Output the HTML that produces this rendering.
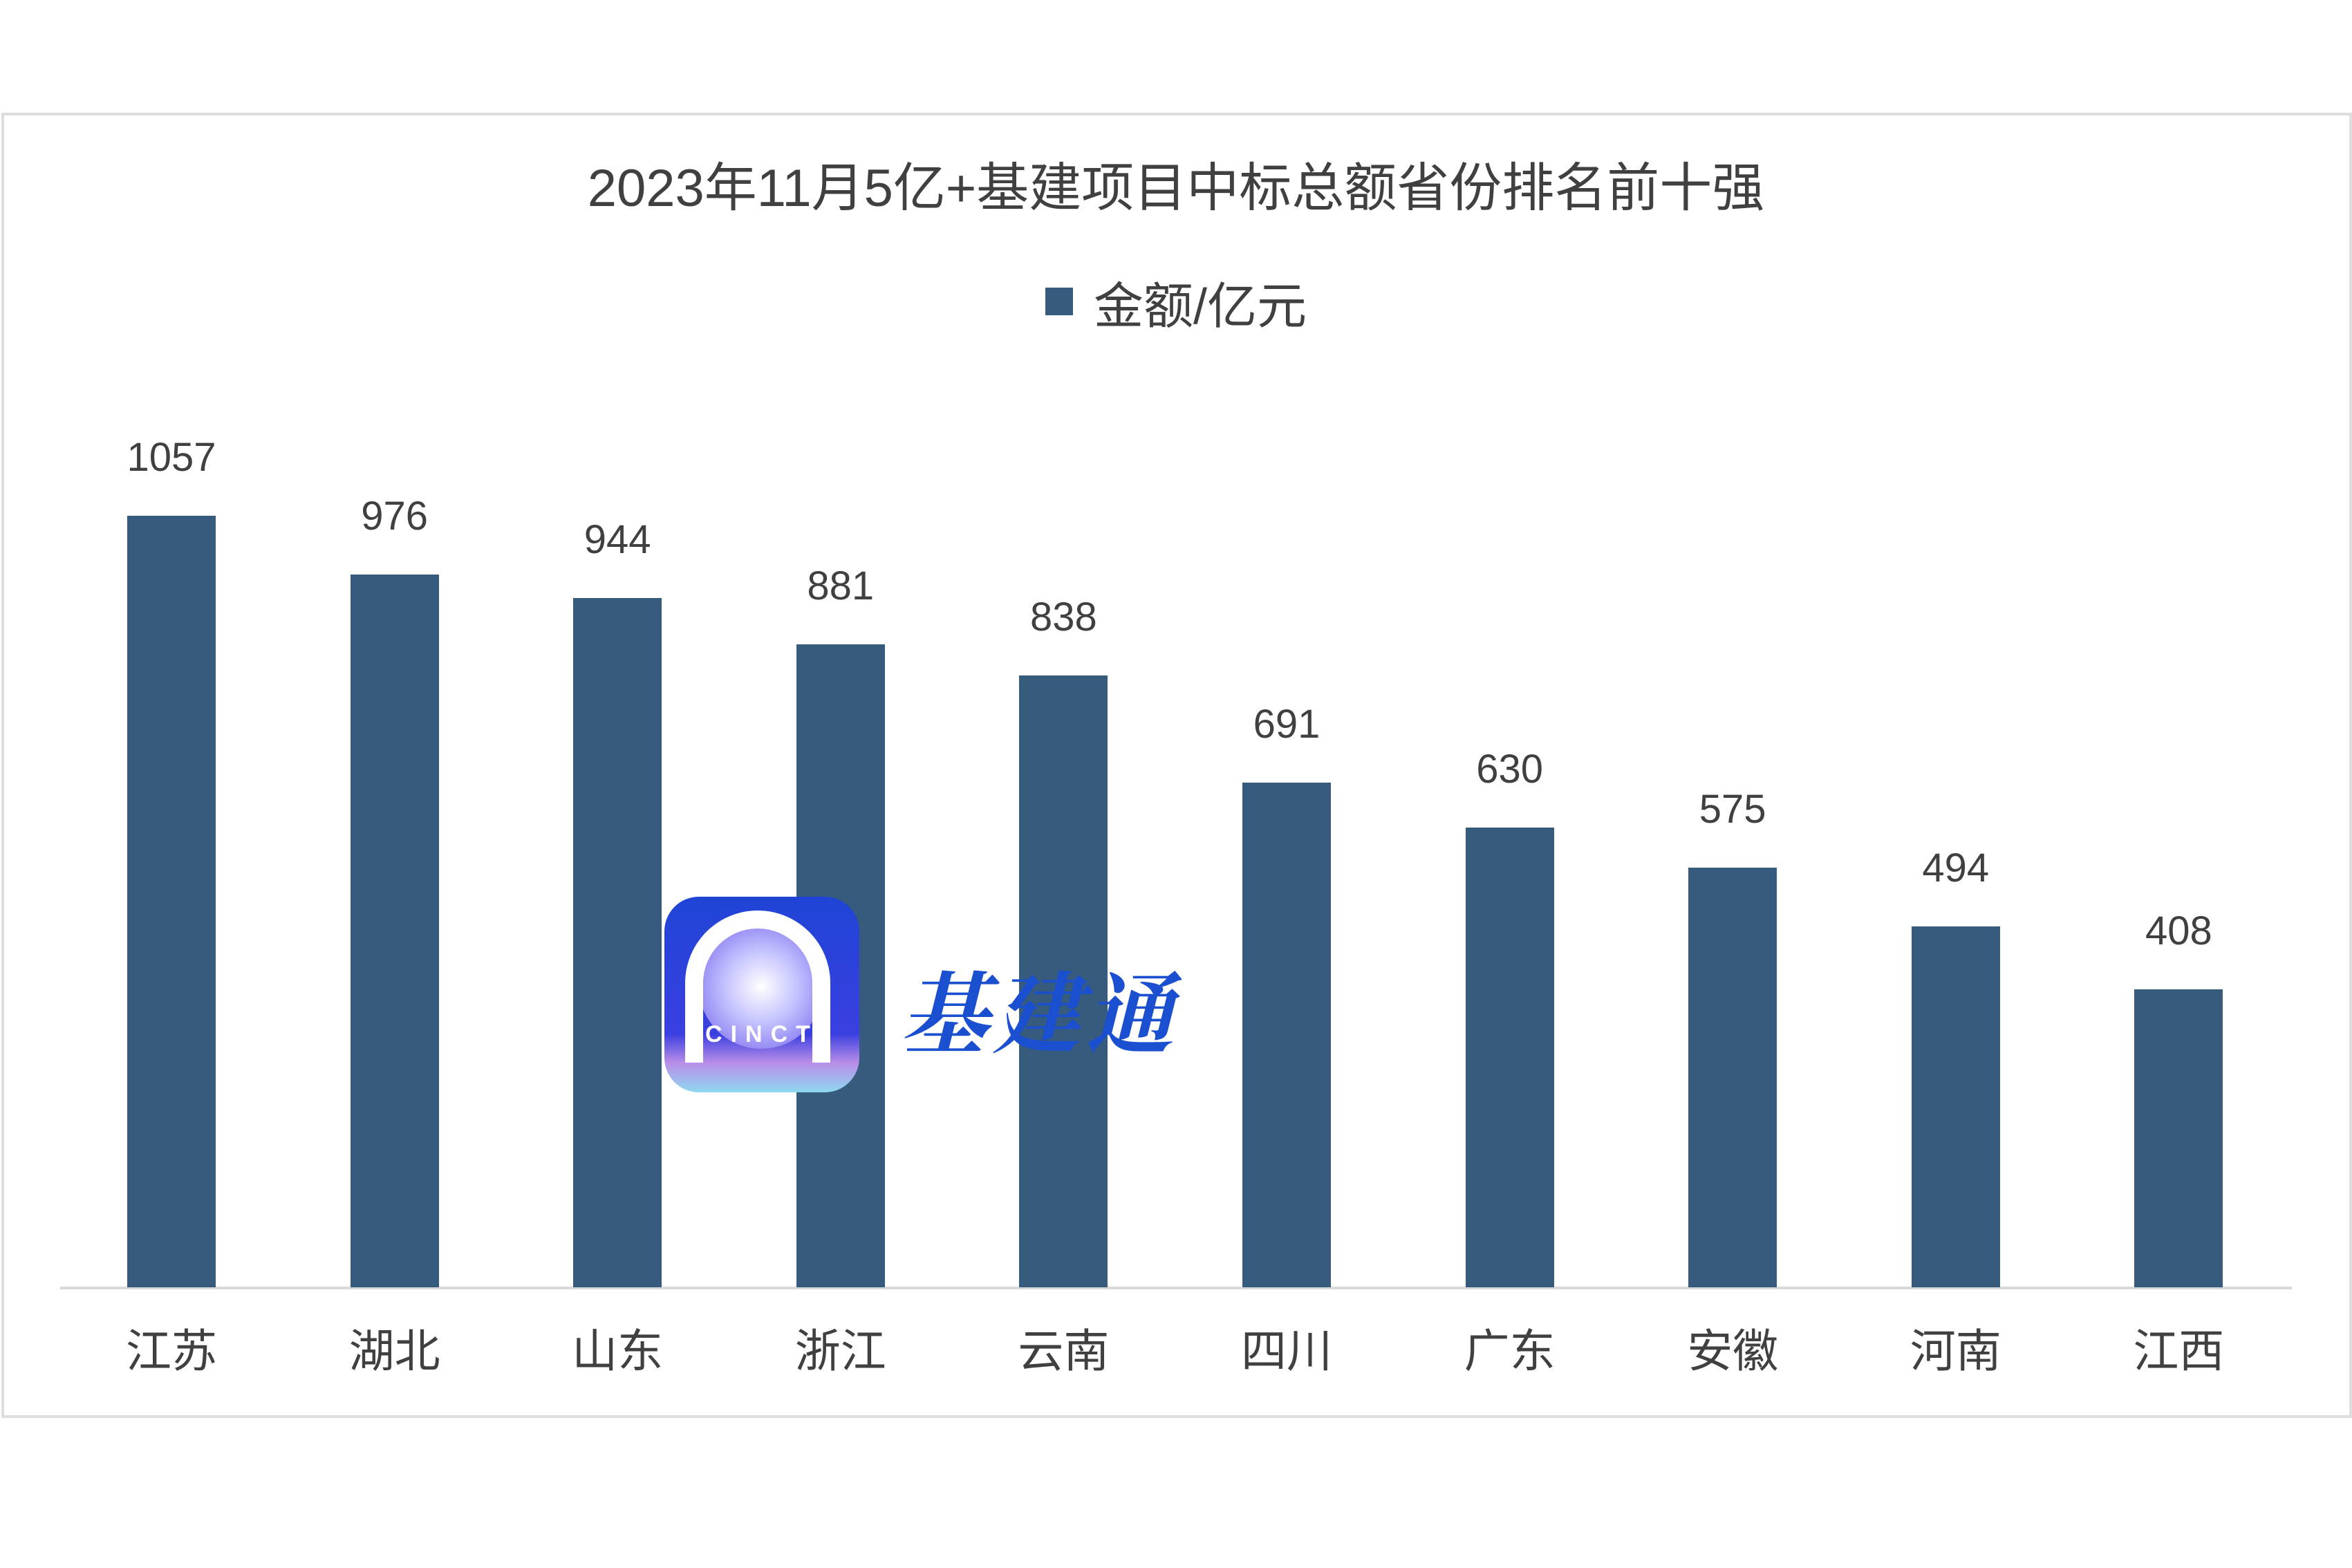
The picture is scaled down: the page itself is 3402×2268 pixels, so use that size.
<!DOCTYPE html>
<html><head><meta charset="utf-8"><style>
html,body{margin:0;padding:0;background:#fff;}
body{width:3402px;height:2268px;position:relative;overflow:hidden;font-family:"Liberation Sans","Noto Sans CJK SC",sans-serif;color:#404040;}
.box{position:absolute;left:2px;top:163px;width:3392px;height:1880px;border:4px solid #dedede;}
.t{position:absolute;white-space:nowrap;text-align:center;transform:translateX(-50%);}
.bar{position:absolute;width:128px;background:#365b7c;}
</style></head><body>
<div class="box"></div>
<div class="t" style="left:1701px;top:210px;font-size:76px;">2023年11月5亿+基建项目中标总额省份排名前十强</div>
<div style="position:absolute;left:1512px;top:416px;width:40px;height:40px;background:#365b7c;"></div>
<div style="position:absolute;left:1582px;top:384px;font-size:72px;white-space:nowrap;">金额/亿元</div>
<div style="position:absolute;left:87px;top:1861px;width:3228px;height:4px;background:#d9d9d9;"></div>
<div id="bars"></div>
<!-- watermark -->
<div style="position:absolute;left:961px;top:1297px;width:282px;height:283px;border-radius:50px;background:linear-gradient(180deg,#1f45d6 0%,#3a3fe0 70%,#b98ee8 85%,#8fd8f0 100%);overflow:hidden;">
<div style="position:absolute;left:50px;top:40px;width:180px;height:180px;border-radius:50%;background:radial-gradient(circle,#fff 0%,#c6c4ff 40%,#6a58e8 100%);"></div>
<div style="position:absolute;left:30px;top:20px;width:210px;height:220px;border-radius:110px 110px 0 0;border:26px solid #fff;border-bottom:none;box-sizing:border-box;"></div>
<div style="position:absolute;left:0;width:282px;top:180px;text-align:center;color:#fff;font-size:34px;font-weight:bold;letter-spacing:12px;">CINCT</div>
</div>
<div style="position:absolute;left:1302px;top:1365px;font-size:128px;color:#1a4fd0;font-family:'Noto Serif CJK SC',serif;font-weight:bold;letter-spacing:6px;font-style:italic;white-space:nowrap;">基建通</div>
<script>
(function(){
var v=[1057,976,944,881,838,691,630,575,494,408],n=["江苏","湖北","山东","浙江","云南","四川","广东","安徽","河南","江西"];
var h="";for(var i=0;i<10;i++){var c=248+i*322.6,ty=1862-v[i]*1.056;
h+='<div class="bar" style="left:'+(c-64)+'px;top:'+ty+'px;height:'+(1862-ty)+'px"></div>';
h+='<div class="t" style="left:'+c+'px;top:'+(ty-118)+'px;font-size:58px">'+v[i]+'</div>';
h+='<div class="t" style="left:'+c+'px;top:1901px;font-size:66px">'+n[i]+'</div>';}
document.getElementById("bars").innerHTML=h;
})();
</script>
</body></html>
